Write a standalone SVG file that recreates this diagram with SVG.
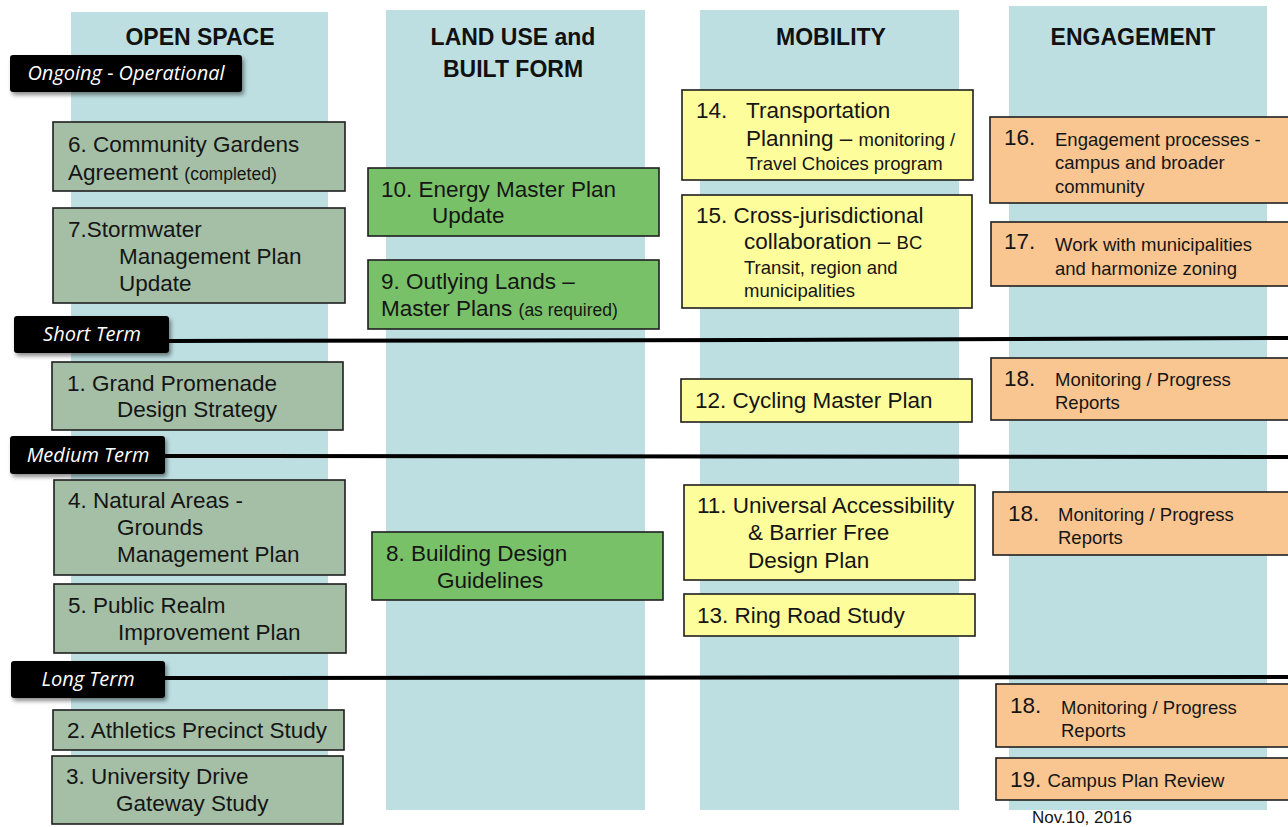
<svg xmlns="http://www.w3.org/2000/svg" width="1288" height="827" viewBox="0 0 1288 827">
<style>
.col{fill:#bddfe2}
.hdr{font-family:"Liberation Sans",Arial,sans-serif;font-weight:bold;font-size:23px;fill:#111;text-anchor:middle}
.tl{fill:#000;filter:url(#sh)}
.tlt{font-family:"Open Sans","DejaVu Sans",sans-serif;font-style:italic;font-size:20px;fill:#fff;text-anchor:middle}
.bx{stroke:#1e1e1e;stroke-width:1.6}
.g1{fill:#a4bfa6}
.g2{fill:#79c168}
.y{fill:#fdfd9c}
.o{fill:#f9c691}
.t{font-family:"Liberation Sans",Arial,sans-serif;font-size:22.5px;fill:#151515}
.s{font-size:18.5px}
.xs{font-size:17.5px}
.ln{stroke:#000;stroke-width:4;fill:none}
</style>
<defs>
<filter id="sh" x="-10%" y="-20%" width="130%" height="160%">
<feDropShadow dx="2" dy="3" stdDeviation="2" flood-color="#000" flood-opacity="0.45"/>
</filter>
</defs>
<rect width="1288" height="827" fill="#fff"/>
<g id="columns">
<rect class="col" x="71" y="12" width="257" height="800"/>
<rect class="col" x="386" y="10" width="259" height="800"/>
<rect class="col" x="700" y="10" width="259" height="800"/>
<rect class="col" x="1009" y="6" width="258" height="804"/>
</g>
<g id="headers">
<text class="hdr" x="200" y="45">OPEN SPACE</text>
<text class="hdr" x="513" y="45">LAND USE and</text>
<text class="hdr" x="513" y="77">BUILT FORM</text>
<text class="hdr" x="831" y="45">MOBILITY</text>
<text class="hdr" x="1133" y="45">ENGAGEMENT</text>
</g>
<g id="connectors">
<polyline class="ln" points="169,341 755,340 1288,338"/>
<polyline class="ln" points="165,456 1288,457"/>
<polyline class="ln" points="165,678 1288,677"/>
</g>
<g id="label-ongoing">
<rect class="tl" x="10" y="55" width="232" height="37" rx="3"/>
<text class="tlt" x="126" y="80">Ongoing - Operational</text>
</g>
<g id="label-short">
<rect class="tl" x="14" y="316" width="155" height="37" rx="3"/>
<text class="tlt" x="92" y="341">Short Term</text>
</g>
<g id="label-medium">
<rect class="tl" x="10" y="436" width="155" height="38" rx="3"/>
<text class="tlt" x="88" y="462">Medium Term</text>
</g>
<g id="label-long">
<rect class="tl" x="11" y="661" width="154" height="37" rx="3"/>
<text class="tlt" x="88" y="686">Long Term</text>
</g>
<g id="n6">
<rect class="bx g1" x="53" y="122" width="292" height="69"/>
<text class="t" x="68" y="152">6. Community Gardens</text>
<text class="t" x="68" y="180">Agreement <tspan class="xs">(completed)</tspan></text>
</g>
<g id="n7">
<rect class="bx g1" x="53" y="208" width="292" height="95"/>
<text class="t" x="68" y="237">7.Stormwater</text>
<text class="t" x="119" y="264">Management Plan</text>
<text class="t" x="119" y="291">Update</text>
</g>
<g id="n1">
<rect class="bx g1" x="52" y="362" width="291" height="68"/>
<text class="t" x="67" y="391">1. Grand Promenade</text>
<text class="t" x="117" y="417">Design Strategy</text>
</g>
<g id="n4">
<rect class="bx g1" x="54" y="480" width="291" height="95"/>
<text class="t" x="68" y="508">4. Natural Areas -</text>
<text class="t" x="117" y="535">Grounds</text>
<text class="t" x="117" y="562">Management Plan</text>
</g>
<g id="n5">
<rect class="bx g1" x="54" y="584" width="292" height="69"/>
<text class="t" x="68" y="613">5. Public Realm</text>
<text class="t" x="118" y="640">Improvement Plan</text>
</g>
<g id="n2">
<rect class="bx g1" x="53" y="710" width="291" height="40"/>
<text class="t" x="67" y="738">2. Athletics Precinct Study</text>
</g>
<g id="n3">
<rect class="bx g1" x="52" y="756" width="291" height="68"/>
<text class="t" x="66" y="784">3. University Drive</text>
<text class="t" x="116" y="811">Gateway Study</text>
</g>
<g id="n10">
<rect class="bx g2" x="368" y="168" width="291" height="68"/>
<text class="t" x="381" y="197">10. Energy Master Plan</text>
<text class="t" x="432" y="223">Update</text>
</g>
<g id="n9">
<rect class="bx g2" x="368" y="260" width="291" height="69"/>
<text class="t" x="381" y="289">9. Outlying Lands –</text>
<text class="t" x="381" y="316">Master Plans <tspan class="xs">(as required)</tspan></text>
</g>
<g id="n8">
<rect class="bx g2" x="372" y="532" width="291" height="68"/>
<text class="t" x="386" y="561">8. Building Design</text>
<text class="t" x="437" y="588">Guidelines</text>
</g>
<g id="n14">
<rect class="bx y" x="682" y="90" width="291" height="90"/>
<text class="t" x="696" y="118">14.</text>
<text class="t" x="746" y="118">Transportation</text>
<text class="t" x="746" y="146">Planning – <tspan class="s">monitoring /</tspan></text>
<text class="t s" x="746" y="170">Travel Choices program</text>
</g>
<g id="n15">
<rect class="bx y" x="682" y="195" width="290" height="113"/>
<text class="t" x="696" y="223">15. Cross-jurisdictional</text>
<text class="t" x="744" y="249">collaboration – <tspan class="s">BC</tspan></text>
<text class="t s" x="744" y="274">Transit, region and</text>
<text class="t s" x="744" y="297">municipalities</text>
</g>
<g id="n12">
<rect class="bx y" x="681" y="379" width="291" height="43"/>
<text class="t" x="695" y="408">12. Cycling Master Plan</text>
</g>
<g id="n11">
<rect class="bx y" x="684" y="485" width="291" height="95"/>
<text class="t" x="697" y="513">11. Universal Accessibility</text>
<text class="t" x="748" y="540">&amp; Barrier Free</text>
<text class="t" x="748" y="568">Design Plan</text>
</g>
<g id="n13">
<rect class="bx y" x="684" y="594" width="291" height="42"/>
<text class="t" x="697" y="623">13. Ring Road Study</text>
</g>
<g id="n16">
<rect class="bx o" x="990" y="117" width="300" height="86"/>
<text class="t" x="1004" y="145">16.</text>
<text class="t s" x="1055" y="146">Engagement processes -</text>
<text class="t s" x="1055" y="169">campus and broader</text>
<text class="t s" x="1055" y="193">community</text>
</g>
<g id="n17">
<rect class="bx o" x="991" y="222" width="299" height="64"/>
<text class="t" x="1004" y="249">17.</text>
<text class="t s" x="1055" y="251">Work with municipalities</text>
<text class="t s" x="1055" y="275">and harmonize zoning</text>
</g>
<g id="n18a">
<rect class="bx o" x="991" y="358" width="299" height="62"/>
<text class="t" x="1004" y="386">18.</text>
<text class="t s" x="1055" y="386">Monitoring / Progress</text>
<text class="t s" x="1055" y="409">Reports</text>
</g>
<g id="n18b">
<rect class="bx o" x="993" y="492" width="297" height="63"/>
<text class="t" x="1008" y="521">18.</text>
<text class="t s" x="1058" y="521">Monitoring / Progress</text>
<text class="t s" x="1058" y="544">Reports</text>
</g>
<g id="n18c">
<rect class="bx o" x="996" y="684" width="294" height="63"/>
<text class="t" x="1010" y="713">18.</text>
<text class="t s" x="1061" y="714">Monitoring / Progress</text>
<text class="t s" x="1061" y="737">Reports</text>
</g>
<g id="n19">
<rect class="bx o" x="996" y="758" width="294" height="42"/>
<text class="t" x="1010" y="787">19. <tspan class="s">Campus Plan Review</tspan></text>
</g>
<g id="date">
<text class="t" style="font-size:17px" x="1032" y="823">Nov.10, 2016</text>
</g>
</svg>
